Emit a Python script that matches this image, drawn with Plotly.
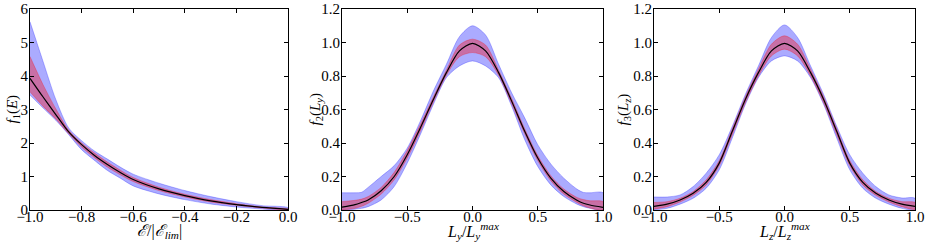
import plotly.graph_objects as go

# ---------------- data ----------------
x1 = [-1.0, -0.95, -0.9, -0.85, -0.8, -0.75, -0.7, -0.65, -0.6, -0.5, -0.4, -0.3, -0.2, -0.1, 0.0]
mean1 = [3.93, 3.38, 2.85, 2.33, 1.95, 1.63, 1.36, 1.12, 0.91, 0.63, 0.43, 0.27, 0.16, 0.08, 0.02]
blue_up1 = [5.62, 4.45, 3.30, 2.45, 2.07, 1.76, 1.52, 1.28, 1.07, 0.80, 0.58, 0.40, 0.25, 0.13, 0.07]
blue_lo1 = [3.43, 3.05, 2.68, 2.25, 1.80, 1.48, 1.18, 0.95, 0.72, 0.48, 0.31, 0.18, 0.09, 0.03, 0.0]
red_up1 = [4.58, 3.75, 3.02, 2.38, 2.00, 1.70, 1.43, 1.19, 0.97, 0.68, 0.47, 0.31, 0.19, 0.09, 0.03]
red_lo1 = [3.53, 3.10, 2.72, 2.28, 1.88, 1.56, 1.28, 1.05, 0.85, 0.58, 0.39, 0.24, 0.14, 0.06, 0.01]

x2 = [-1.0, -0.9, -0.85, -0.8, -0.7, -0.6, -0.5, -0.4, -0.3, -0.2, -0.1, 0.0,
      0.1, 0.2, 0.3, 0.4, 0.5, 0.6, 0.7, 0.8, 0.85, 0.9, 1.0]
mean2 = [0.017, 0.032, 0.045, 0.06, 0.115, 0.20, 0.33, 0.49, 0.66, 0.82, 0.95, 0.995,
         0.95, 0.82, 0.65, 0.47, 0.31, 0.19, 0.11, 0.058, 0.04, 0.03, 0.016]
blue_up2 = [0.103, 0.103, 0.106, 0.135, 0.20, 0.265, 0.37, 0.53, 0.71, 0.87, 1.035, 1.10,
            1.045, 0.87, 0.70, 0.55, 0.39, 0.275, 0.19, 0.125, 0.105, 0.103, 0.103]
blue_lo2 = [0.0, 0.005, 0.01, 0.02, 0.06, 0.14, 0.28, 0.45, 0.63, 0.79, 0.86, 0.89,
            0.86, 0.79, 0.62, 0.42, 0.26, 0.15, 0.08, 0.035, 0.02, 0.01, 0.0]
red_up2 = [0.05, 0.058, 0.065, 0.08, 0.135, 0.225, 0.355, 0.51, 0.675, 0.835, 0.985, 1.02,
           0.985, 0.835, 0.665, 0.485, 0.325, 0.205, 0.125, 0.075, 0.062, 0.055, 0.05]
red_lo2 = [0.0, 0.01, 0.022, 0.04, 0.095, 0.18, 0.31, 0.47, 0.645, 0.805, 0.915, 0.94,
           0.915, 0.805, 0.635, 0.455, 0.295, 0.175, 0.095, 0.045, 0.025, 0.012, 0.0]

x3 = [-1.0, -0.9, -0.8, -0.7, -0.6, -0.5, -0.4, -0.3, -0.2, -0.1, 0.0,
      0.1, 0.2, 0.3, 0.4, 0.5, 0.6, 0.7, 0.8, 0.9, 1.0]
mean3 = [0.022, 0.035, 0.06, 0.10, 0.165, 0.28, 0.47, 0.66, 0.82, 0.95, 0.995,
         0.95, 0.82, 0.66, 0.47, 0.28, 0.165, 0.10, 0.06, 0.035, 0.022]
blue_up3 = [0.078, 0.078, 0.09, 0.14, 0.22, 0.33, 0.50, 0.69, 0.86, 1.03, 1.105,
            1.03, 0.86, 0.69, 0.50, 0.33, 0.22, 0.14, 0.09, 0.072, 0.07]
blue_lo3 = [0.0, 0.01, 0.035, 0.07, 0.13, 0.24, 0.43, 0.63, 0.79, 0.89, 0.92,
            0.89, 0.79, 0.63, 0.43, 0.24, 0.13, 0.07, 0.035, 0.01, 0.0]
red_up3 = [0.045, 0.05, 0.07, 0.11, 0.18, 0.295, 0.485, 0.675, 0.84, 0.99, 1.04,
           0.99, 0.84, 0.675, 0.485, 0.295, 0.18, 0.11, 0.07, 0.05, 0.045]
red_lo3 = [0.005, 0.02, 0.048, 0.088, 0.15, 0.265, 0.45, 0.64, 0.80, 0.92, 0.96,
           0.92, 0.80, 0.64, 0.45, 0.265, 0.15, 0.088, 0.048, 0.02, 0.005]

x_ticks1 = [-1.0, -0.8, -0.6, -0.4, -0.2, 0.0]
x_ticklabels1 = ["\u22121.0", "\u22120.8", "\u22120.6", "\u22120.4", "\u22120.2", "0.0"]
y_ticks1 = [0, 1, 2, 3, 4, 5, 6]
y_ticklabels1 = ["0", "1", "2", "3", "4", "5", "6"]
x_ticks23 = [-1.0, -0.5, 0.0, 0.5, 1.0]
x_ticklabels23 = ["\u22121.0", "\u22120.5", "0.0", "0.5", "1.0"]
y_ticks23 = [0.0, 0.2, 0.4, 0.6, 0.8, 1.0, 1.2]
y_ticklabels23 = ["0.0", "0.2", "0.4", "0.6", "0.8", "1.0", "1.2"]

x_titles = ["<i>\u2130</i>/|<i>\u2130</i><sub><i>lim</i></sub>|",
            "<i>L</i><sub><i>y</i></sub>/<i>L</i><sub><i>y</i></sub><sup><i>max</i></sup>",
            "<i>L</i><sub><i>z</i></sub>/<i>L</i><sub><i>z</i></sub><sup><i>max</i></sup>"]
y_titles = ["<i>f</i><sub>1</sub>(<i>E</i>)",
            "<i>f</i><sub>2</sub>(<i>L</i><sub><i>y</i></sub>)",
            "<i>f</i><sub>3</sub>(<i>L</i><sub><i>z</i></sub>)"]

# ---------------- figure ----------------
BLUE = "rgba(0,0,255,0.33)"
RED = "rgba(255,0,0,0.35)"
FONT = "Liberation Serif, DejaVu Serif, serif"
W, H = 927, 246
ML, MR, MT, MB = 30, 12, 9, 36
PW, PH = W - ML - MR, H - MT - MB

fig = go.Figure()

panels = [
    (x1, mean1, blue_up1, blue_lo1, red_up1, red_lo1),
    (x2, mean2, blue_up2, blue_lo2, red_up2, red_lo2),
    (x3, mean3, blue_up3, blue_lo3, red_up3, red_lo3),
]

for i, (xs, m, bu, bl, ru, rl) in enumerate(panels):
    ax = "" if i == 0 else str(i + 1)
    xa, ya = "x" + ax, "y" + ax
    for up, lo, col in ((bu, bl, BLUE), (ru, rl, RED)):
        fig.add_trace(go.Scatter(
            x=list(xs) + list(xs)[::-1], y=list(up) + list(lo)[::-1],
            fill="toself", fillcolor=col, mode="lines",
            line=dict(color=col, width=0.8, shape="spline", smoothing=0.8),
            hoverinfo="skip", showlegend=False, xaxis=xa, yaxis=ya))
    fig.add_trace(go.Scatter(
        x=xs, y=m, mode="lines",
        line=dict(color="black", width=1.2, shape="spline", smoothing=0.8),
        showlegend=False, xaxis=xa, yaxis=ya))

# pixel extents of the three axes boxes
px_left = [30, 342, 654]
px_right = [288, 603, 915]
domains = [((l - ML) / PW, (r - ML) / PW) for l, r in zip(px_left, px_right)]
ytitle_px = [12, 315, 623]
xtitle_py = 231

axis_common = dict(showline=True, linecolor="black", linewidth=1, mirror="ticks",
                   ticks="inside", ticklen=4, tickcolor="black", tickwidth=1,
                   showgrid=False, zeroline=False, automargin=False,
                   tickfont=dict(family=FONT, size=15, color="black"))

layout = dict(width=W, height=H,
              margin=dict(l=ML, r=MR, t=MT, b=MB),
              paper_bgcolor="white", plot_bgcolor="white",
              font=dict(family=FONT, color="black"))

annotations = []
for i in range(3):
    ax = "" if i == 0 else str(i + 1)
    if i == 0:
        xr, xt, xl, yr, yt, yl = [-1, 0], x_ticks1, x_ticklabels1, [0, 6], y_ticks1, y_ticklabels1
    else:
        xr, xt, xl, yr, yt, yl = [-1, 1], x_ticks23, x_ticklabels23, [0, 1.2], y_ticks23, y_ticklabels23
    layout["xaxis" + ax] = dict(axis_common, domain=list(domains[i]), range=xr,
                                tickvals=xt, ticktext=xl, anchor="y" + ax,
                                ticklabelstandoff=-7)
    layout["yaxis" + ax] = dict(axis_common, domain=[0, 1], range=yr,
                                tickvals=yt, ticktext=yl, anchor="x" + ax,
                                ticklabelstandoff=-2)
    annotations.append(dict(text=x_titles[i], xref="paper", yref="paper",
                            x=(domains[i][0] + domains[i][1]) / 2,
                            y=(H - MB - xtitle_py) / PH,
                            xanchor="center", yanchor="middle", showarrow=False,
                            font=dict(family=FONT, size=16, color="black")))
    annotations.append(dict(text=y_titles[i], xref="paper", yref="paper",
                            x=(ytitle_px[i] - ML) / PW, y=0.5, textangle=-90,
                            xanchor="center", yanchor="middle", showarrow=False,
                            font=dict(family=FONT, size=15, color="black")))

layout["annotations"] = annotations
fig.update_layout(**layout)
fig.write_html("out.html", config={"displayModeBar": False},
               post_script="document.body.style.margin='0';")
